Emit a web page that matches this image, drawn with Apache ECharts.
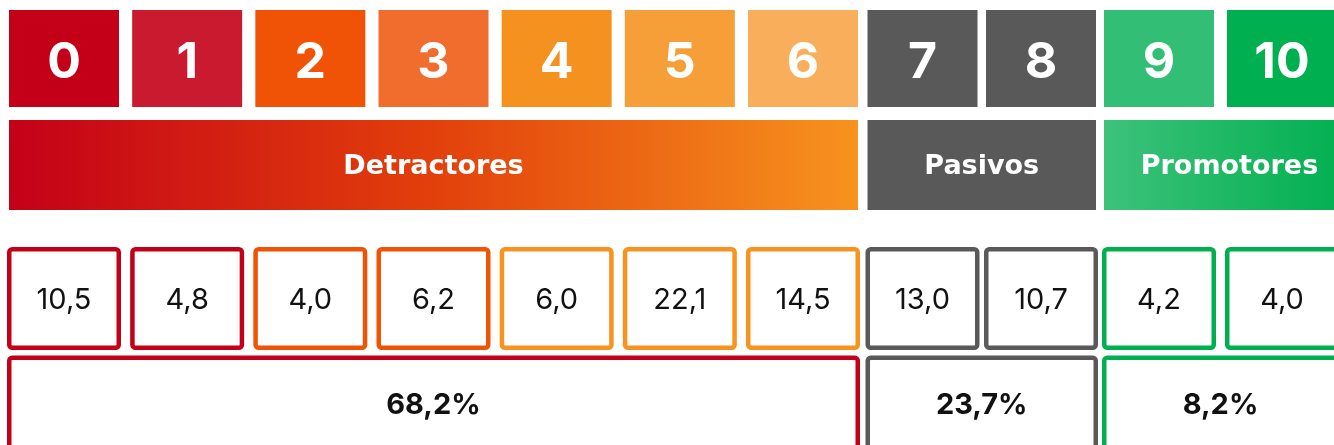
<!DOCTYPE html>
<html>
<head>
<meta charset="utf-8">
<script src="https://cdn.jsdelivr.net/npm/echarts@6/dist/echarts.min.js"></script>
<style>
html, body { margin: 0; padding: 0; background: #fff; }
#chart { width: 1334px; height: 445px; }
</style>
</head>
<body>
<div id="chart"></div>
<script>
// NPS scale: score tiles, group bands, share per score, share per group
const scores = ['0', '1', '2', '3', '4', '5', '6', '7', '8', '9', '10'];
const shares = [10.5, 4.8, 4.0, 6.2, 6.0, 22.1, 14.5, 13.0, 10.7, 4.2, 4.0];
const tileColors = ['#c40018', '#c91a2f', '#f05206', '#f06d2e', '#f5921f', '#f69e37', '#f8ae5a', '#595959', '#595959', '#33be76', '#00af50'];
const boxColors = ['#c40018', '#c40018', '#f05206', '#f05206', '#f7931e', '#f7931e', '#f7931e', '#595959', '#595959', '#00af50', '#00af50'];

const groupNames = ['Detractores', 'Pasivos', 'Promotores'];
const groupFirst = [0, 7, 9];
const groupLast = [6, 8, 10];
const groupTotals = [68.2, 23.7, 8.2];
const groupFills = [['#c40018', '#e2400b', '#f7931e'], ['#595959', '#595959', '#595959'], ['#3dc27c', '#1db863', '#00af50']];
const groupBorders = ['#c40018', '#595959', '#00af50'];

// row layout (pixels)
const L = { tileTop: 10, tileH: 97, bandTop: 120, bandH: 90, boxTop: 247, boxH: 103, totTop: 355.5, totH: 140, tileW: 110, lw: 4.5 };
const bandExtra = [0, 0, 18]; // last band runs past the page edge
const NUM_FONT = 'Inter, "Open Sans", sans-serif';
const LABEL_FONT = '"DejaVu Sans", Verdana, sans-serif';

function fmt(v) { return v.toFixed(1).replace('.', ','); }

const chart = echarts.init(document.getElementById('chart'));

const grids = [
    { left: 64, width: 739, top: 0, height: 445 },
    { left: 922.5, width: 118.5, top: 0, height: 445 },
    { left: 1159, width: 123, top: 0, height: 445 }
];

const series = [];
groupNames.forEach((name, g) => {
    const idx = [];
    for (let i = groupFirst[g]; i <= groupLast[g]; i++) idx.push([i, shares[i]]);
    // tiles + share boxes
    series.push({
        type: 'custom',
        xAxisIndex: g,
        yAxisIndex: g,
        clip: false,
        data: idx,
        renderItem: function (params, api) {
            const i = api.value(0);
            const cx = api.coord([i, 0])[0];
            const x0 = cx - L.tileW / 2;
            return {
                type: 'group',
                children: [
                    { type: 'rect', shape: { x: x0, y: L.tileTop, width: L.tileW, height: L.tileH }, style: { fill: tileColors[i] } },
                    { type: 'text', style: { text: scores[i], x: cx, y: L.tileTop + L.tileH / 2 + 4, fill: '#fff', font: 'bold 50px ' + NUM_FONT, align: 'center', verticalAlign: 'middle' } },
                    { type: 'rect', shape: { x: x0 - 2 + L.lw / 2, y: L.boxTop + L.lw / 2, width: L.tileW + 4 - L.lw, height: L.boxH - L.lw, r: 3 }, style: { fill: '#fff', stroke: boxColors[i], lineWidth: L.lw } },
                    { type: 'text', style: { text: fmt(api.value(1)), x: cx, y: L.boxTop + L.boxH / 2 + 2, fill: '#111', font: '29px ' + NUM_FONT, align: 'center', verticalAlign: 'middle' } }
                ]
            };
        }
    });
    // group band + total box
    series.push({
        type: 'custom',
        xAxisIndex: g,
        yAxisIndex: g,
        clip: false,
        data: [[groupFirst[g], groupLast[g], groupTotals[g]]],
        renderItem: function (params, api) {
            const x0 = api.coord([api.value(0), 0])[0] - L.tileW / 2;
            const x1 = api.coord([api.value(1), 0])[0] + L.tileW / 2;
            const f = groupFills[g];
            return {
                type: 'group',
                children: [
                    { type: 'rect', shape: { x: x0, y: L.bandTop, width: x1 - x0 + bandExtra[g], height: L.bandH }, style: { fill: new echarts.graphic.LinearGradient(0, 0, 1, 0, [{ offset: 0, color: f[0] }, { offset: 0.5, color: f[1] }, { offset: 1, color: f[2] }]) } },
                    { type: 'text', style: { text: name, x: (x0 + x1 + bandExtra[g]) / 2, y: L.bandTop + L.bandH / 2 + 2, fill: '#fff', font: 'bold 27px ' + LABEL_FONT, align: 'center', verticalAlign: 'middle' } },
                    { type: 'rect', shape: { x: x0 - 2 + L.lw / 2, y: L.totTop + L.lw / 2, width: x1 - x0 + 4 - L.lw, height: L.totH, r: 3 }, style: { fill: '#fff', stroke: groupBorders[g], lineWidth: L.lw } },
                    { type: 'text', style: { text: fmt(api.value(2)) + '%', x: (x0 + x1) / 2, y: 405, fill: '#111', font: 'bold 29px ' + NUM_FONT, align: 'center', verticalAlign: 'middle' } }
                ]
            };
        }
    });
});

chart.setOption({
    animation: false,
    grid: grids,
    xAxis: [
        { type: 'value', gridIndex: 0, min: 0, max: 6, show: false },
        { type: 'value', gridIndex: 1, min: 7, max: 8, show: false },
        { type: 'value', gridIndex: 2, min: 9, max: 10, show: false }
    ],
    yAxis: [
        { type: 'value', gridIndex: 0, show: false },
        { type: 'value', gridIndex: 1, show: false },
        { type: 'value', gridIndex: 2, show: false }
    ],
    series: series
});
</script>
</body>
</html>
